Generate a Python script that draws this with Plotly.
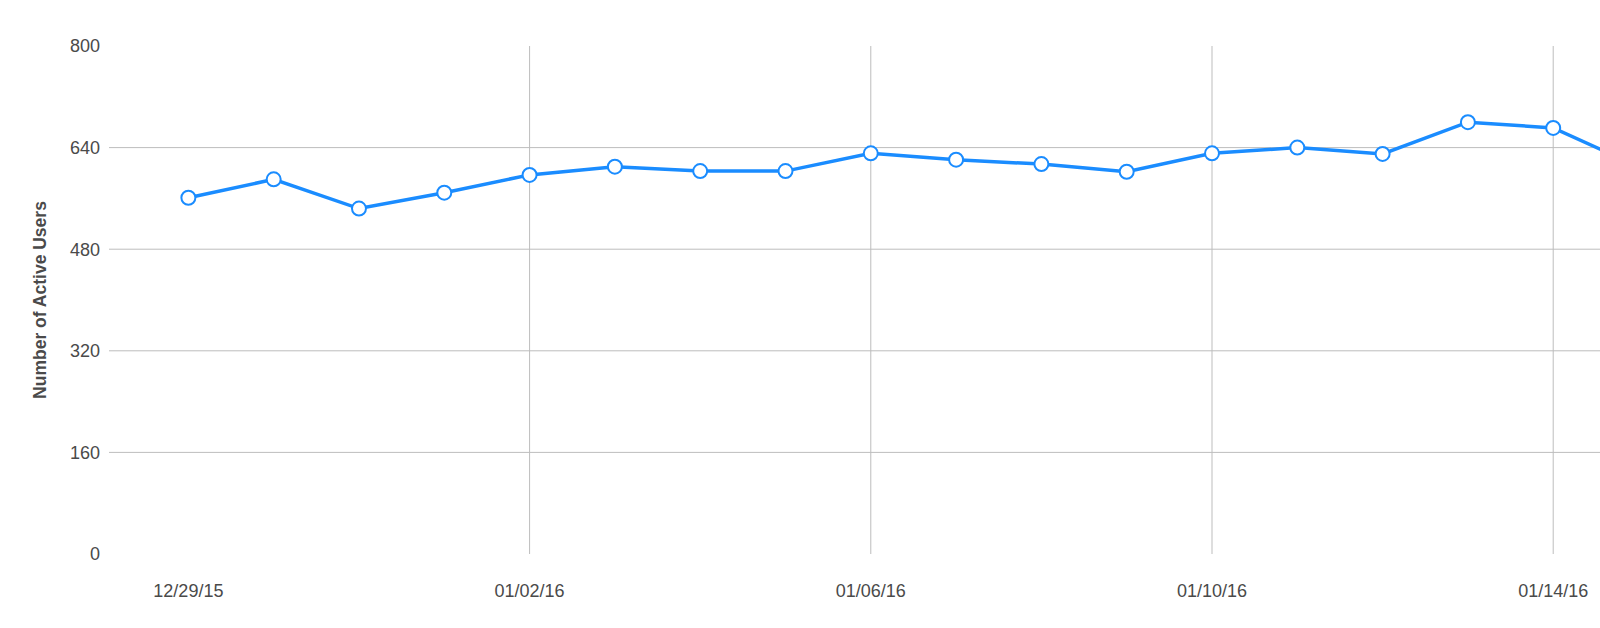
import plotly.graph_objects as go

dates = ["2015-12-29", "2015-12-30", "2015-12-31", "2016-01-01", "2016-01-02",
         "2016-01-03", "2016-01-04", "2016-01-05", "2016-01-06", "2016-01-07",
         "2016-01-08", "2016-01-09", "2016-01-10", "2016-01-11", "2016-01-12",
         "2016-01-13", "2016-01-14", "2016-01-15"]
active_users = [561, 590, 544, 569, 597, 610, 603, 603, 631, 621,
                614, 602, 631, 640, 630, 680, 671, 610]

x_tick_vals = ["2015-12-29", "2016-01-02", "2016-01-06", "2016-01-10", "2016-01-14"]
x_tick_text = ["12/29/15", "01/02/16", "01/06/16", "01/10/16", "01/14/16"]
x_grid_vals = ["2016-01-02", "2016-01-06", "2016-01-10", "2016-01-14"]
y_tick_vals = [0, 160, 320, 480, 640, 800]
y_grid_vals = [160, 320, 480, 640]

LINE_BLUE = "#1a8cff"
GRID = "#bdbdbd"
TEXT = "#4a4a4a"
FONT = "Liberation Sans, Arial, sans-serif"

fig = go.Figure()
fig.add_trace(go.Scatter(
    x=dates, y=active_users, mode="lines+markers",
    line=dict(color=LINE_BLUE, width=3.5),
    marker=dict(size=14, color="white", line=dict(color=LINE_BLUE, width=2)),
    showlegend=False, cliponaxis=True,
))

shapes = []
for gx in x_grid_vals:
    shapes.append(dict(type="line", xref="x", yref="paper", x0=gx, x1=gx, y0=0, y1=1,
                       line=dict(color=GRID, width=1), layer="below"))
for gy in y_grid_vals:
    shapes.append(dict(type="line", xref="paper", yref="y", x0=0, x1=1, y0=gy, y1=gy,
                       line=dict(color=GRID, width=1), layer="below"))

fig.update_layout(
    width=1600, height=628,
    margin=dict(l=109, r=0, t=46, b=74),
    paper_bgcolor="white", plot_bgcolor="white",
    font=dict(family=FONT, color=TEXT, size=18),
    shapes=shapes,
    xaxis=dict(
        type="date",
        range=["2015-12-28 01:40", "2016-01-14 13:10"],
        tickmode="array", tickvals=x_tick_vals, ticktext=x_tick_text,
        showgrid=False, zeroline=False, showline=False, ticks="",
        ticklabelstandoff=24,
        tickfont=dict(size=18, color=TEXT, family=FONT),
    ),
    yaxis=dict(
        range=[0, 800],
        tickmode="array", tickvals=y_tick_vals,
        showgrid=False, zeroline=False, showline=False, ticks="",
        ticklabelstandoff=8,
        tickfont=dict(size=18, color=TEXT, family=FONT),
        title=dict(text="<b>Number of Active Users</b>", standoff=18,
                   font=dict(size=17.5, color=TEXT, family=FONT)),
    ),
)

fig.write_html(
    "out.html",
    config={"displayModeBar": False},
    post_script="document.body.style.margin='0';document.body.style.overflow='hidden';",
)
